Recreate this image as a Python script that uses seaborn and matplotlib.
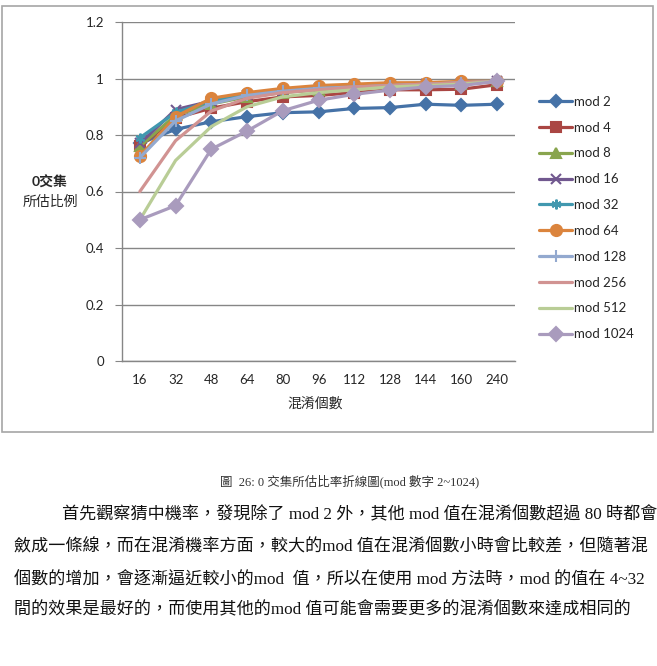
import matplotlib
matplotlib.use('Agg')
import matplotlib.pyplot as plt
import matplotlib.patches as patches
import seaborn as sns
import numpy as np

# Data
categories = ['16', '32', '48', '64', '80', '96', '112', '128', '144', '160', '240']
series_names = ['mod 2', 'mod 4', 'mod 8', 'mod 16', 'mod 32', 'mod 64',
                'mod 128', 'mod 256', 'mod 512', 'mod 1024']

mod2 = [0.77, 0.82, 0.847, 0.865, 0.879, 0.882, 0.894, 0.897, 0.909, 0.905, 0.909]
mod4 = [0.76, 0.86, 0.895, 0.918, 0.935, 0.94, 0.95, 0.96, 0.96, 0.962, 0.978]
mod8 = [0.76, 0.87, 0.91, 0.935, 0.95, 0.96, 0.97, 0.975, 0.98, 0.98, 0.99]
mod16 = [0.77, 0.89, 0.92, 0.94, 0.955, 0.965, 0.97, 0.975, 0.98, 0.985, 0.99]
mod32 = [0.79, 0.88, 0.92, 0.945, 0.96, 0.97, 0.975, 0.98, 0.985, 0.985, 0.99]
mod64 = [0.725, 0.865, 0.93, 0.95, 0.965, 0.975, 0.98, 0.985, 0.985, 0.99, 0.99]
mod128 = [0.72, 0.85, 0.91, 0.94, 0.955, 0.965, 0.97, 0.975, 0.98, 0.985, 0.99]
mod256 = [0.60, 0.78, 0.885, 0.93, 0.95, 0.96, 0.97, 0.975, 0.98, 0.985, 0.99]
mod512 = [0.50, 0.71, 0.83, 0.90, 0.935, 0.95, 0.96, 0.97, 0.975, 0.98, 0.99]
mod1024 = [0.50, 0.55, 0.75, 0.814, 0.886, 0.923, 0.944, 0.959, 0.97, 0.975, 0.99]
all_values = [mod2, mod4, mod8, mod16, mod32, mod64, mod128, mod256, mod512, mod1024]

colors = ['#4572A7', '#AA4643', '#89A54E', '#71588F', '#4198AF',
          '#DB843D', '#93A9CF', '#D19392', '#B9CD96', '#A99BBD']
markers = ['D', 's', '^', 'x', (6, 2, 0), 'o', '+', None, None, 'D']
msizes = [6, 7, 7, 7, 7, 8, 8, 0, 0, 7]

caption = '圖  26: 0 交集所估比率折線圖(mod 數字 2~1024)'
body_lines = [
    '首先觀察猜中機率，發現除了 mod 2 外，其他 mod 值在混淆個數超過 80 時都會',
    '斂成一條線，而在混淆機率方面，較大的mod 值在混淆個數小時會比較差，但隨著混',
    '個數的增加，會逐漸逼近較小的mod  值，所以在使用 mod 方法時，mod 的值在 4~32',
    '間的效果是最好的，而使用其他的mod 值可能會需要更多的混淆個數來達成相同的',
]

sns.set_style('white')
plt.rcParams['font.family'] = ['Lato', 'Noto Sans CJK TC', 'DejaVu Sans']

fig = plt.figure(figsize=(6.57, 6.66), dpi=100)
W, H = 657, 666

# chart frame
fig.patches.append(patches.Rectangle((2 / W, 1 - 432 / H), 651 / W, 426 / H,
                                     transform=fig.transFigure, fill=False,
                                     edgecolor='#a6a6a6', lw=1.2))

ax = fig.add_axes([122 / W, 1 - 361 / H, 393 / W, 339 / H])
x = np.arange(len(categories))
for name, vals, c, m, ms in zip(series_names, all_values, colors, markers, msizes):
    kw = dict(marker=m, markersize=ms, markeredgecolor=c, markeredgewidth=1.5) if m else {}
    sns.lineplot(x=x, y=vals, ax=ax, color=c, linewidth=2.3, label=name, **kw)

ax.set_xlim(-0.5, len(categories) - 0.5)
ax.set_ylim(0, 1.2)
ax.set_yticks(np.arange(0, 1.21, 0.2))
ax.set_yticklabels(['0', '0.2', '0.4', '0.6', '0.8', '1', '1.2'], fontsize=9.5)
ax.set_xticks(x)
ax.set_xticklabels(categories, fontsize=9.5)
ax.set_xticks(np.arange(-0.5, len(categories), 1), minor=True)
ax.tick_params(axis='x', which='major', length=0, pad=9)
ax.tick_params(axis='x', which='minor', length=5, color='#868686', direction='out')
ax.tick_params(axis='y', length=5, color='#868686', direction='out', pad=8, left=True)
ax.yaxis.grid(True, color='#868686', lw=1)
ax.set_axisbelow(True)
for s in ['top', 'right']:
    ax.spines[s].set_visible(False)
for s in ['left', 'bottom']:
    ax.spines[s].set_color('#868686')
    ax.spines[s].set_linewidth(1)
ax.set_xlabel('')
ax.set_ylabel('')

ax.legend(loc='center left', bbox_to_anchor=(534 / W, 1 - 218 / H),
          bbox_transform=fig.transFigure, frameon=False, fontsize=9.5,
          labelspacing=1.05, handlelength=2.5, handletextpad=0.1,
          borderaxespad=0, numpoints=1)

fig.text(315 / W, 1 - 403 / H, '混淆個數', ha='center', va='center', fontsize=10)
fig.text(50 / W, 1 - 182 / H, '0交集', ha='center', va='center', fontsize=10,
         fontweight='bold')
fig.text(50 / W, 1 - 201 / H, '所估比例', ha='center', va='center', fontsize=10)

fig.text(350 / W, 1 - 481 / H, caption, ha='center', va='center', fontsize=9,
         color='#333333', family=['Liberation Serif', 'Noto Sans CJK TC'])

line_y = [515, 547, 579, 610]
line_x = [62, 14, 14, 14]
for ly, lx, txt in zip(line_y, line_x, body_lines):
    fig.text(lx / W, 1 - ly / H, txt, ha='left', va='center', fontsize=12.3,
             color='#111111', family=['Liberation Serif', 'Noto Sans CJK TC'])

fig.savefig('out.png', dpi=100)
